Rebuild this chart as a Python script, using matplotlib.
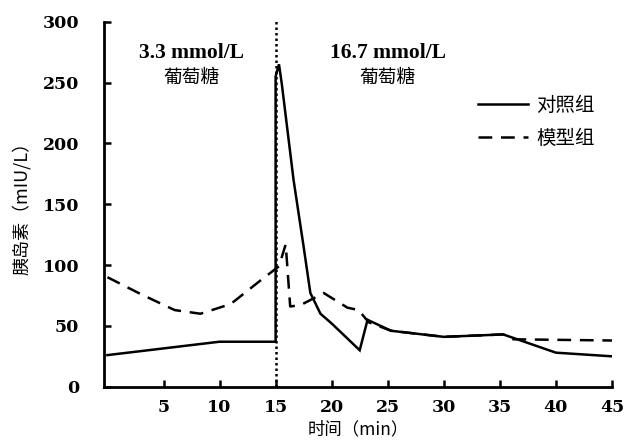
import matplotlib
matplotlib.use("Agg")
import matplotlib.pyplot as plt

# Data
ctrl_t = [0, 5, 10, 15, 15.0, 15.3, 15.55, 16.6, 17.5, 18.1, 19.0, 20.0, 22.5, 23.2, 25.3, 30, 35.3, 40, 45]
ctrl_v = [26, 31.5, 37, 37, 255, 265, 249, 170, 115, 77, 60, 52, 30, 55, 46, 41, 43, 28, 25]

model_t = [0, 3, 6, 8.3, 11, 13.6, 15.3, 15.9, 16.3, 17.2, 19.3, 21.4, 22.4, 23.3, 25.3, 30, 35.3, 36.2, 45]
model_v = [90, 76, 63, 60, 68, 87, 99, 117, 66, 67, 77, 65, 63, 53, 46, 41, 43, 39, 38]

x_ticks = [5, 10, 15, 20, 25, 30, 35, 40, 45]
y_ticks = [0, 50, 100, 150, 200, 250, 300]
series_names = ["对照组", "模型组"]
phase_conc = ["3.3 mmol/L", "16.7 mmol/L"]
phase_sugar = "葡萄糖"
phase_x = [7.5, 25.0]
switch_t = 15

cjk = ["Noto Sans CJK SC", "DejaVu Sans"]
plt.rcParams['font.family'] = cjk

fig = plt.figure(figsize=(6.27, 4.43), dpi=100)
ax = fig.add_axes([0.166, 0.127, 0.81, 0.824])

ax.plot(ctrl_t, ctrl_v, color="black", lw=1.8, solid_joinstyle="miter", label=series_names[0])
ax.plot(model_t, model_v, color="black", lw=1.8, ls=(0, (5.5, 3.5)), label=series_names[1])
ax.plot([switch_t, switch_t], [0, 302], color="black", lw=1.8, ls=(0, (1, 1.2)), clip_on=False)

ax.set_xlim(-0.3, 45)
ax.set_ylim(0, 300)
ax.set_xticks(x_ticks)
ax.set_yticks(y_ticks)
for lab in ax.get_xticklabels() + ax.get_yticklabels():
    lab.set_fontfamily("DejaVu Serif")
    lab.set_fontweight("bold")
    lab.set_fontsize(12.5)
ax.tick_params(axis="both", direction="in", length=5, width=1.8)
ax.tick_params(axis="y", pad=18)
ax.tick_params(axis="x", pad=9)
ax.spines["top"].set_visible(False)
ax.spines["right"].set_visible(False)
for s in ["left", "bottom"]:
    ax.spines[s].set_linewidth(2)

for xx, conc in zip(phase_x, phase_conc):
    ax.text(xx, 274, conc, ha="center", va="center", fontsize=15.5,
            fontfamily="Liberation Serif", fontweight="bold")
    ax.text(xx, 254, phase_sugar, ha="center", va="center", fontsize=13.5, family=cjk)

ax.set_ylabel("胰岛素（mIU/L）", fontsize=13, labelpad=8)
ax.set_xlabel("时间（min）", fontsize=12.5, labelpad=3)

leg = ax.legend(loc="upper left", bbox_to_anchor=(0.72, 0.82), frameon=False,
                fontsize=14, handlelength=2.6, handletextpad=0.4, labelspacing=0.6,
                borderaxespad=0)

fig.savefig("out.png", dpi=100)
